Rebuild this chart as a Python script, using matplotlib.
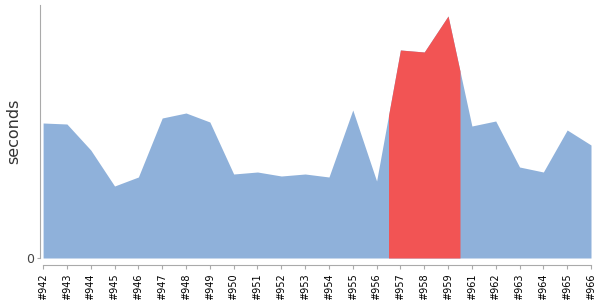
import numpy as np
import matplotlib.pyplot as plt

# build numbers (no #960 in the data)
builds = ['#942', '#943', '#944', '#945', '#946', '#947', '#948', '#949', '#950',
          '#951', '#952', '#953', '#954', '#955', '#956', '#957', '#958', '#959',
          '#961', '#962', '#963', '#964', '#965', '#966']
seconds = [135, 134, 108, 72, 81, 140, 145, 136, 84, 86, 82, 84, 81, 148, 77,
           208, 206, 242, 132, 137, 91, 86, 128, 113]
highlight = ['#957', '#958', '#959']

BLUE = '#8fb1da'
RED = '#f25454'

x = np.arange(len(builds))
y = np.array(seconds, dtype=float)

fig = plt.figure(figsize=(6, 3), dpi=100)
ax = fig.add_axes([40 / 600, 42 / 300, 551 / 600, 253 / 300])

ax.fill_between(x, 0, y, color=BLUE, linewidth=0)

# red band covers the highlighted builds plus half a step on each side
i0 = builds.index(highlight[0]) - 0.5
i1 = builds.index(highlight[-1]) + 0.5
xs = np.concatenate([[i0], x[(x > i0) & (x < i1)], [i1]])
ys = np.interp(xs, x, y)
ax.fill_between(xs, 0, ys, color=RED, linewidth=0)

ax.set_xlim(-0.13, len(builds) - 1)
ax.set_ylim(0, 253)

ax.set_xticks(x, builds)
ax.set_yticks([0], ['0'])

for side in ['top', 'right']:
    ax.spines[side].set_visible(False)
ax.spines['left'].set_color('#aaaaaa')
ax.spines['bottom'].set_color('#aaaaaa')
ax.spines['bottom'].set_position(('outward', 5))
ax.spines['bottom'].set_bounds(0, len(builds) - 1)
ax.tick_params(axis='x', colors='#aaaaaa', length=3, labelcolor='black',
               pad=3, labelrotation=90, labelsize=7)
ax.tick_params(axis='y', colors='#aaaaaa', length=2, labelcolor='#444444',
               pad=2, labelsize=9)

# y label placed by hand so it sits where the reference has it
fig.text(13.5 / 600, 1 - 131 / 300, 'seconds', rotation=90, fontsize=11.5,
         color='#333333', ha='center', va='center')

fig.savefig('out.png', dpi=100)
